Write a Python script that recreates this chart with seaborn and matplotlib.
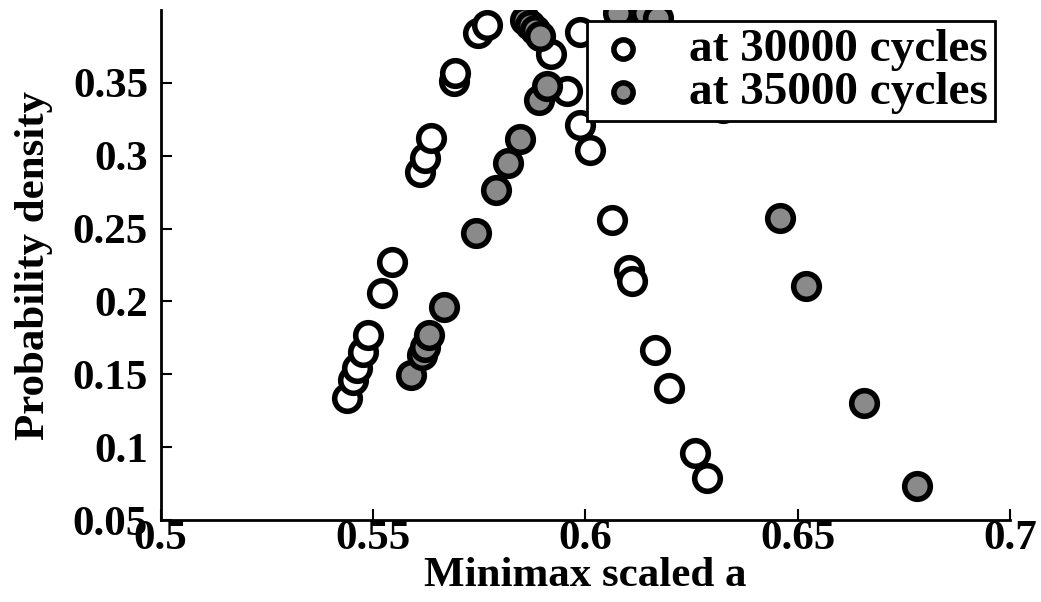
import numpy as np
import pandas as pd
import seaborn as sns
import matplotlib.pyplot as plt

# values
a_30000 = [0.5439, 0.5453, 0.5462, 0.5476, 0.5489, 0.5521, 0.5545, 0.5611, 0.5623,
           0.5636, 0.5690, 0.5694, 0.5748, 0.5768, 0.5919, 0.5957, 0.5988, 0.6010,
           0.5988, 0.6063, 0.6102, 0.6110, 0.6165, 0.6196, 0.6259, 0.6286]
pd_30000 = [0.1336, 0.1462, 0.1542, 0.1656, 0.1771, 0.2057, 0.2274, 0.2885, 0.2984,
            0.3122, 0.3510, 0.3568, 0.3843, 0.3900, 0.3698, 0.3442, 0.3213, 0.3041,
            0.3852, 0.2560, 0.2217, 0.2137, 0.1668, 0.1405, 0.0958, 0.0786]

a_35000 = [0.5589, 0.5615, 0.5623, 0.5633, 0.5668, 0.5743, 0.5789, 0.5818, 0.5845,
           0.5892, 0.5910, 0.5858, 0.5870, 0.5882, 0.5894, 0.6078, 0.6143, 0.6170,
           0.6325, 0.6459, 0.6520, 0.6655, 0.6781]
pd_35000 = [0.1496, 0.1633, 0.1688, 0.1771, 0.1965, 0.2469, 0.2762, 0.2950, 0.3115,
            0.3385, 0.3477, 0.3934, 0.3900, 0.3865, 0.3824, 0.3982, 0.3980, 0.3948,
            0.3330, 0.2574, 0.2107, 0.1301, 0.0734]

xticks = [0.5, 0.55, 0.6, 0.65, 0.7]
yticks = [0.05, 0.1, 0.15, 0.2, 0.25, 0.3, 0.35]

sns.set_style('ticks')
plt.rcParams['font.family'] = ['Liberation Serif', 'DejaVu Serif']
plt.rcParams['font.weight'] = 'bold'
plt.rcParams['axes.labelweight'] = 'bold'
for key in ['text.color', 'axes.labelcolor', 'xtick.color', 'ytick.color', 'axes.edgecolor']:
    plt.rcParams[key] = 'black'

fig = plt.figure(figsize=(10.41, 6.02), dpi=100)
ax = fig.add_axes([0.1542, 0.1362, 0.8162, 0.8472])

sns.scatterplot(x=a_30000, y=pd_30000, ax=ax, s=340, facecolor='white',
                edgecolor='black', linewidth=4, label='at 30000 cycles', zorder=3)
sns.scatterplot(x=a_35000, y=pd_35000, ax=ax, s=340, facecolor='#8a8a8a',
                edgecolor='black', linewidth=4, label='at 35000 cycles', zorder=3)

ax.set_xlim(0.5, 0.7)
ax.set_ylim(0.05, 0.4)
ax.set_xticks(xticks)
ax.set_xticklabels([f'{t:g}' for t in xticks])
ax.set_yticks(yticks)
ax.set_yticklabels([f'{t:g}' for t in yticks])
ax.tick_params(direction='in', length=8, width=1.5, labelsize=31)
ax.tick_params(axis='x', pad=0)
ax.tick_params(axis='y', pad=9)
for side in ['top', 'right']:
    ax.spines[side].set_visible(False)
for side in ['left', 'bottom']:
    ax.spines[side].set_linewidth(2)

ax.set_xlabel('Minimax scaled a', fontsize=31, labelpad=-1)
ax.set_ylabel('Probability density', fontsize=31, labelpad=14)

leg = ax.legend(loc='upper right', bbox_to_anchor=(0.982, 0.978), borderaxespad=0,
                fontsize=34, frameon=True, fancybox=False, framealpha=1,
                edgecolor='black', markerscale=0.75, handletextpad=0.8,
                borderpad=0.15, labelspacing=0.0, handlelength=1.2)
leg.get_frame().set_linewidth(2)
leg.set_zorder(5)

plt.savefig('out.png', dpi=100)
